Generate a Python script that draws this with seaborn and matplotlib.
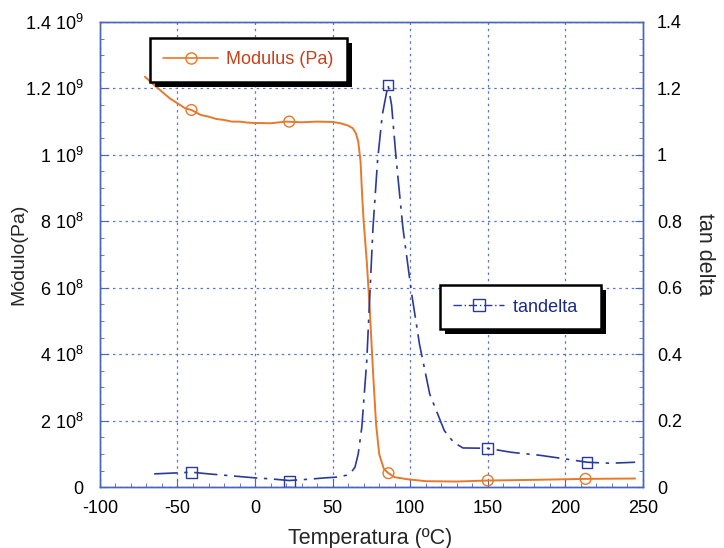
import numpy as np
import pandas as pd
import matplotlib
matplotlib.use("Agg")
import matplotlib.pyplot as plt
from matplotlib.lines import Line2D
from matplotlib.patches import Rectangle
from matplotlib.transforms import IdentityTransform
from matplotlib.ticker import MultipleLocator, FuncFormatter
import seaborn as sns

# Data (modulus in units of 1e9 Pa)
MOD_TEMP = [-71, -65, -60, -55, -50, -45, -41, -35, -30, -25, -20, -15, -10, -5, 0,
            10, 20, 30, 40, 50, 55, 60, 63, 65, 66.5, 68, 69, 70, 72, 74, 76, 78,
            80, 83, 86, 90, 98, 110, 130, 150, 180, 213, 245]
MOD_VAL = [1.235, 1.21, 1.19, 1.17, 1.155, 1.14, 1.135, 1.12, 1.115, 1.108, 1.105,
           1.10, 1.10, 1.097, 1.096, 1.095, 1.10, 1.098, 1.10, 1.099, 1.095, 1.088,
           1.08, 1.065, 1.04, 0.98, 0.88, 0.80, 0.68, 0.53, 0.35, 0.19, 0.10, 0.055,
           0.042, 0.03, 0.024, 0.018, 0.017, 0.02, 0.022, 0.025, 0.026]
MOD_MARK_T = [-41, 22, 86, 150, 213]
MOD_MARK_V = [1.135, 1.10, 0.042, 0.02, 0.025]

TAN_TEMP = [-65, -55, -41, -30, -20, -10, 0, 10, 22, 35, 45, 52, 56, 59, 62, 64.4,
            66.5, 68.8, 72, 74, 76, 79, 82, 85.7, 88, 91, 95.3, 101, 106, 112.6,
            122, 128, 134, 150, 165, 183.5, 200, 214, 229, 245]
TAN_VAL = [0.04, 0.042, 0.045, 0.04, 0.036, 0.032, 0.028, 0.025, 0.02, 0.024, 0.028,
           0.03, 0.033, 0.036, 0.045, 0.06, 0.1, 0.18, 0.38, 0.58, 0.78, 0.985, 1.12,
           1.21, 1.15, 0.985, 0.78, 0.58, 0.43, 0.28, 0.17, 0.135, 0.118, 0.117,
           0.105, 0.096, 0.085, 0.075, 0.072, 0.075]
TAN_MARK_T = [-41, 22, 85.7, 150, 214]
TAN_MARK_V = [0.045, 0.018, 1.21, 0.117, 0.075]

ORANGE = "#E8782A"
ORANGE_TXT = "#C8401A"
BLUE = "#2A3A9A"
BLUE_TXT = "#1A2A8A"
SPINE = "#4A64C0"
FS = 13

sns.set_style("ticks")
plt.rcParams['font.family'] = ['Liberation Sans', 'DejaVu Sans']
plt.rcParams['mathtext.fontset'] = 'custom'
plt.rcParams['mathtext.rm'] = 'Liberation Sans'
plt.rcParams['axes.unicode_minus'] = False

fig, ax = plt.subplots(figsize=(7.24, 5.48), dpi=100)
fig.subplots_adjust(left=0.138, right=0.888, bottom=0.111, top=0.96)
ax2 = ax.twinx()

mod_df = pd.DataFrame({"T": MOD_TEMP, "G": np.array(MOD_VAL) * 1e9})
tan_df = pd.DataFrame({"T": TAN_TEMP, "tan": TAN_VAL})

sns.lineplot(data=mod_df, x="T", y="G", ax=ax, color=ORANGE, lw=1.4, zorder=3)
sns.scatterplot(x=MOD_MARK_T, y=np.array(MOD_MARK_V) * 1e9, ax=ax, marker="o", s=60,
                facecolor="none", edgecolor=ORANGE, linewidth=1.0, zorder=4)
sns.lineplot(data=tan_df, x="T", y="tan", ax=ax2, color=BLUE, lw=1.2, zorder=3)
ax2.lines[-1].set_linestyle((0, (14, 4, 2, 4)))
sns.scatterplot(x=TAN_MARK_T, y=TAN_MARK_V, ax=ax2, marker="s", s=60,
                facecolor="none", edgecolor=BLUE, linewidth=1.0, zorder=4)

ax.set_xlim(-100, 250)
ax.set_ylim(0, 1.4e9)
ax2.set_ylim(0, 1.4)

def mod_fmt(v, pos):
    if v < 1:
        return "0" if abs(v) < 1 else ""
    exp = int(np.floor(np.log10(v) + 1e-9))
    mant = v / 10 ** exp
    return f"{mant:g} 10$^{{{exp}}}$"

ax.xaxis.set_major_locator(MultipleLocator(50))
ax.xaxis.set_minor_locator(MultipleLocator(10))
ax.yaxis.set_major_locator(MultipleLocator(2e8))
ax.yaxis.set_minor_locator(MultipleLocator(5e7))
ax.yaxis.set_major_formatter(FuncFormatter(mod_fmt))
ax2.yaxis.set_major_locator(MultipleLocator(0.2))
ax2.yaxis.set_minor_locator(MultipleLocator(0.05))
ax2.yaxis.set_major_formatter(FuncFormatter(lambda v, p: f"{round(v, 2):g}"))

ax.grid(True, which="major", color="#5A78C8", ls=(0, (2, 3)), lw=0.9)
for a in (ax, ax2):
    a.tick_params(which="both", direction="in", colors=SPINE, labelcolor="black",
                  labelsize=FS)
    a.tick_params(which="major", length=6)
    a.tick_params(which="minor", length=3)
    for s in a.spines.values():
        s.set_visible(True)
        s.set_color(SPINE)
        s.set_linewidth(1.0)
ax.tick_params(axis="x", pad=9)
ax.tick_params(axis="y", pad=12)
ax2.tick_params(axis="y", pad=10)

ax.set_xlabel("Temperatura (ºC)", fontsize=15.5)
ax.set_ylabel("Módulo(Pa)", fontsize=14)
ax2.set_ylabel("tan delta", fontsize=15.5, rotation=270, labelpad=24)
ax.xaxis.set_label_coords(0.497, -0.088)
ax.yaxis.set_label_coords(-0.133, 0.5)

h1 = [Line2D([], [], color=ORANGE, lw=1.2, marker="o", ms=8, mfc="none", mec=ORANGE)]
leg1 = ax2.legend(h1, ["Modulus (Pa)"], loc="upper left", bbox_to_anchor=(0.092, 0.966),
                  borderaxespad=0, fancybox=False, edgecolor="black", framealpha=1,
                  fontsize=FS, handlelength=3.05, borderpad=0.75, handletextpad=0.4,
                  labelcolor=ORANGE_TXT)
leg1.get_frame().set_linewidth(1.8)
ax2.add_artist(leg1)
h2 = [Line2D([], [], color=BLUE, lw=1.0, ls=(0, (6, 2, 1, 2)), marker="s", ms=8,
             mfc="none", mec=BLUE)]
leg2 = ax2.legend(h2, ["tandelta  "], loc="upper left", bbox_to_anchor=(0.626, 0.434),
                  borderaxespad=0, fancybox=False, edgecolor="black", framealpha=1,
                  fontsize=FS, handlelength=2.8, borderpad=0.75, handletextpad=0.5,
                  labelcolor=BLUE_TXT)
leg2.get_frame().set_linewidth(1.8)

# heavy black drop shadow behind each legend box
fig.canvas.draw()
for leg in (leg1, leg2):
    bb = leg.get_frame().get_window_extent()
    sh = Rectangle((bb.x0 + 5, bb.y0 - 5), bb.width, bb.height, transform=IdentityTransform(),
                   facecolor="black", edgecolor="none", zorder=4.9)
    ax2.add_artist(sh)

fig.savefig("out.png", dpi=100)
